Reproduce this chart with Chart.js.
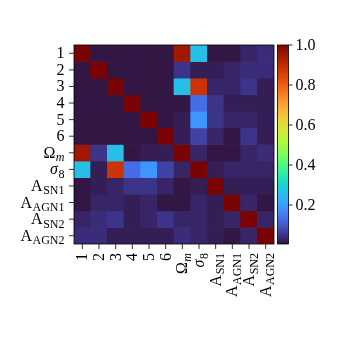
<!DOCTYPE html>
<html>
<head>
<meta charset="utf-8">
<script src="https://cdn.jsdelivr.net/npm/chart.js@4.4.0/dist/chart.umd.min.js"></script>
<style>
  html, body { margin: 0; padding: 0; background: #ffffff; }
  canvas { display: block; }
</style>
</head>
<body>
<canvas id="c" width="337" height="337"></canvas>
<script>
// Parameter names (underscore marks a subscript)
const params = ['1', '2', '3', '4', '5', '6', 'Ω_m', 'σ_8', 'A_SN1', 'A_AGN1', 'A_SN2', 'A_AGN2'];

// |correlation| rows
const row_1     = [1.00, 0.01, 0.01, 0.01, 0.01, 0.01, 0.95, 0.26, 0.01, 0.01, 0.03, 0.04];
const row_2     = [0.01, 1.00, 0.01, 0.01, 0.01, 0.01, 0.05, 0.02, 0.02, 0.03, 0.04, 0.04];
const row_3     = [0.01, 0.01, 1.00, 0.01, 0.01, 0.01, 0.26, 0.88, 0.03, 0.03, 0.05, 0.02];
const row_4     = [0.01, 0.01, 0.01, 1.00, 0.01, 0.01, 0.01, 0.13, 0.05, 0.02, 0.02, 0.02];
const row_5     = [0.01, 0.01, 0.01, 0.01, 1.00, 0.01, 0.02, 0.19, 0.05, 0.03, 0.03, 0.02];
const row_6     = [0.01, 0.01, 0.01, 0.01, 0.01, 1.00, 0.02, 0.07, 0.03, 0.01, 0.05, 0.02];
const row_Om    = [0.95, 0.05, 0.26, 0.01, 0.02, 0.02, 1.00, 0.03, 0.01, 0.01, 0.03, 0.04];
const row_s8    = [0.26, 0.02, 0.88, 0.13, 0.19, 0.07, 0.03, 1.00, 0.02, 0.03, 0.03, 0.03];
const row_ASN1  = [0.01, 0.02, 0.03, 0.05, 0.05, 0.03, 0.01, 0.02, 1.00, 0.02, 0.02, 0.02];
const row_AAGN1 = [0.01, 0.03, 0.03, 0.02, 0.03, 0.01, 0.01, 0.03, 0.02, 1.00, 0.03, 0.01];
const row_ASN2  = [0.03, 0.04, 0.05, 0.02, 0.03, 0.05, 0.03, 0.03, 0.02, 0.03, 1.00, 0.03];
const row_AAGN2 = [0.04, 0.04, 0.02, 0.02, 0.02, 0.02, 0.04, 0.03, 0.02, 0.01, 0.03, 1.00];

// Colour scale limits and colourbar ticks
const vMin = 0.005;
const vMax = 1.0;
const cbarTicks = [0.2, 0.4, 0.6, 0.8, 1.0];
const cbarTickLabels = ['0.2', '0.4', '0.6', '0.8', '1.0'];

const rows = [row_1, row_2, row_3, row_4, row_5, row_6, row_Om, row_s8, row_ASN1, row_AAGN1, row_ASN2, row_AAGN2];

// Turbo colormap anchors (position, r, g, b in 0..1)
const TURBO = [
  [0/255, 0.18995, 0.07176, 0.23217],
  [8/255, 0.22500, 0.16354, 0.45096],
  [16/255, 0.25107, 0.25237, 0.63374],
  [24/255, 0.27103, 0.33880, 0.78258],
  [32/255, 0.27597, 0.42563, 0.89600],
  [40/255, 0.26252, 0.51186, 0.97065],
  [48/255, 0.23874, 0.59397, 0.99839],
  [56/255, 0.19461, 0.67538, 0.98983],
  [64/255, 0.15844, 0.73551, 0.92305],
  [72/255, 0.11830, 0.80585, 0.84865],
  [80/255, 0.10342, 0.86185, 0.76003],
  [96/255, 0.23463, 0.95688, 0.57829],
  [112/255, 0.43796, 0.99714, 0.37733],
  [128/255, 0.64362, 0.98999, 0.23356],
  [144/255, 0.81148, 0.92400, 0.20769],
  [160/255, 0.93579, 0.81300, 0.21722],
  [176/255, 0.99195, 0.66800, 0.19337],
  [192/255, 0.97581, 0.49000, 0.12300],
  [208/255, 0.91300, 0.33000, 0.05500],
  [224/255, 0.80100, 0.20400, 0.01800],
  [240/255, 0.65300, 0.10400, 0.00600],
  [255/255, 0.47960, 0.01583, 0.01055]
];
function turbo(t) {
  t = Math.max(0, Math.min(1, t));
  let k = 0;
  while (k < TURBO.length - 2 && t > TURBO[k + 1][0]) k++;
  const a = TURBO[k], b = TURBO[k + 1];
  const f = (t - a[0]) / (b[0] - a[0]);
  const c = i => Math.round((a[i] + (b[i] - a[i]) * f) * 255);
  return `rgb(${c(1)},${c(2)},${c(3)})`;
}
const colorFor = v => turbo((v - vMin) / (vMax - vMin));

const datasets = rows.map((vals, i) => ({
  data: params.map(() => [i - 0.5, i + 0.5]),
  backgroundColor: vals.map(colorFor),
  borderWidth: 0,
  grouped: false,
  barPercentage: 1,
  categoryPercentage: 1
}));

const FONT = '"Liberation Serif", "DejaVu Serif", serif';
const MAIN = 16, SUB = 12;

function parseLabel(s) {
  const k = s.indexOf('_');
  if (k < 0) return { main: s, sub: '' };
  return { main: s.slice(0, k), sub: s.slice(k + 1) };
}
function mainFont(main) { return (main === 'σ' ? 'italic ' : '') + MAIN + 'px ' + FONT; }
function subFont(sub) { return (/^[a-z]$/.test(sub) ? 'italic ' : '') + SUB + 'px ' + FONT; }
function labelWidth(ctx, lab) {
  ctx.font = mainFont(lab.main);
  let w = ctx.measureText(lab.main).width;
  if (lab.sub) { ctx.font = subFont(lab.sub); w += ctx.measureText(lab.sub).width + 0.5; }
  return w;
}
function drawLabel(ctx, lab, x, y) {
  ctx.textAlign = 'left';
  ctx.textBaseline = 'alphabetic';
  ctx.font = mainFont(lab.main);
  ctx.fillText(lab.main, x, y);
  const w = ctx.measureText(lab.main).width;
  if (lab.sub) {
    ctx.font = subFont(lab.sub);
    ctx.fillText(lab.sub, x + w + 0.5, y + 3.5);
  }
}

const axesPlugin = {
  id: 'axesPlugin',
  afterDraw(chart) {
    const ctx = chart.ctx;
    const xs = chart.scales.x, ys = chart.scales.y, cb = chart.scales.cb;
    const area = chart.chartArea;
    ctx.save();
    ctx.fillStyle = '#000';
    ctx.strokeStyle = '#000';
    ctx.lineWidth = 0.8;

    ctx.strokeRect(area.left, area.top, area.right - area.left, area.bottom - area.top);

    const labs = params.map(parseLabel);
    labs.forEach((lab, i) => {
      const py = ys.getPixelForValue(i);
      ctx.beginPath();
      ctx.moveTo(area.left - 5, py);
      ctx.lineTo(area.left, py);
      ctx.stroke();
      const w = labelWidth(ctx, lab);
      drawLabel(ctx, lab, area.left - 9.5 - w, py + 5);
    });
    labs.forEach((lab, i) => {
      const px = xs.getPixelForValue(i);
      ctx.beginPath();
      ctx.moveTo(px, area.bottom);
      ctx.lineTo(px, area.bottom + 5);
      ctx.stroke();
      const w = labelWidth(ctx, lab);
      ctx.save();
      ctx.translate(px + 5, area.bottom + 9);
      ctx.rotate(-Math.PI / 2);
      drawLabel(ctx, lab, -w, 0);
      ctx.restore();
    });

    const cx0 = area.right + 3.5, cw = 11;
    const yTop = cb.getPixelForValue(vMax), yBot = cb.getPixelForValue(vMin);
    const grad = ctx.createLinearGradient(0, yBot, 0, yTop);
    for (let k = 0; k <= 60; k++) grad.addColorStop(k / 60, turbo(k / 60));
    ctx.fillStyle = grad;
    ctx.fillRect(cx0, yTop, cw, yBot - yTop);
    ctx.strokeRect(cx0, yTop, cw, yBot - yTop);
    ctx.fillStyle = '#000';
    cbarTicks.forEach((v, k) => {
      const py = cb.getPixelForValue(v);
      ctx.beginPath();
      ctx.moveTo(cx0 + cw, py);
      ctx.lineTo(cx0 + cw + 4, py);
      ctx.stroke();
      ctx.font = MAIN + 'px ' + FONT;
      ctx.textAlign = 'left';
      ctx.textBaseline = 'middle';
      ctx.fillText(cbarTickLabels[k], cx0 + cw + 7, py + 1);
    });
    ctx.restore();
  }
};

new Chart(document.getElementById('c'), {
  type: 'bar',
  data: { labels: params, datasets },
  options: {
    responsive: false,
    animation: false,
    devicePixelRatio: 1,
    layout: { padding: { left: 74, top: 45, right: 63, bottom: 93 } },
    plugins: { legend: { display: false }, tooltip: { enabled: false } },
    scales: {
      x: { type: 'category', display: false, offset: true },
      y: { type: 'linear', display: false, min: -0.5, max: 11.5, reverse: true },
      cb: { type: 'linear', display: false, min: vMin, max: vMax, position: 'right' }
    }
  },
  plugins: [axesPlugin]
});
</script>
</body>
</html>
